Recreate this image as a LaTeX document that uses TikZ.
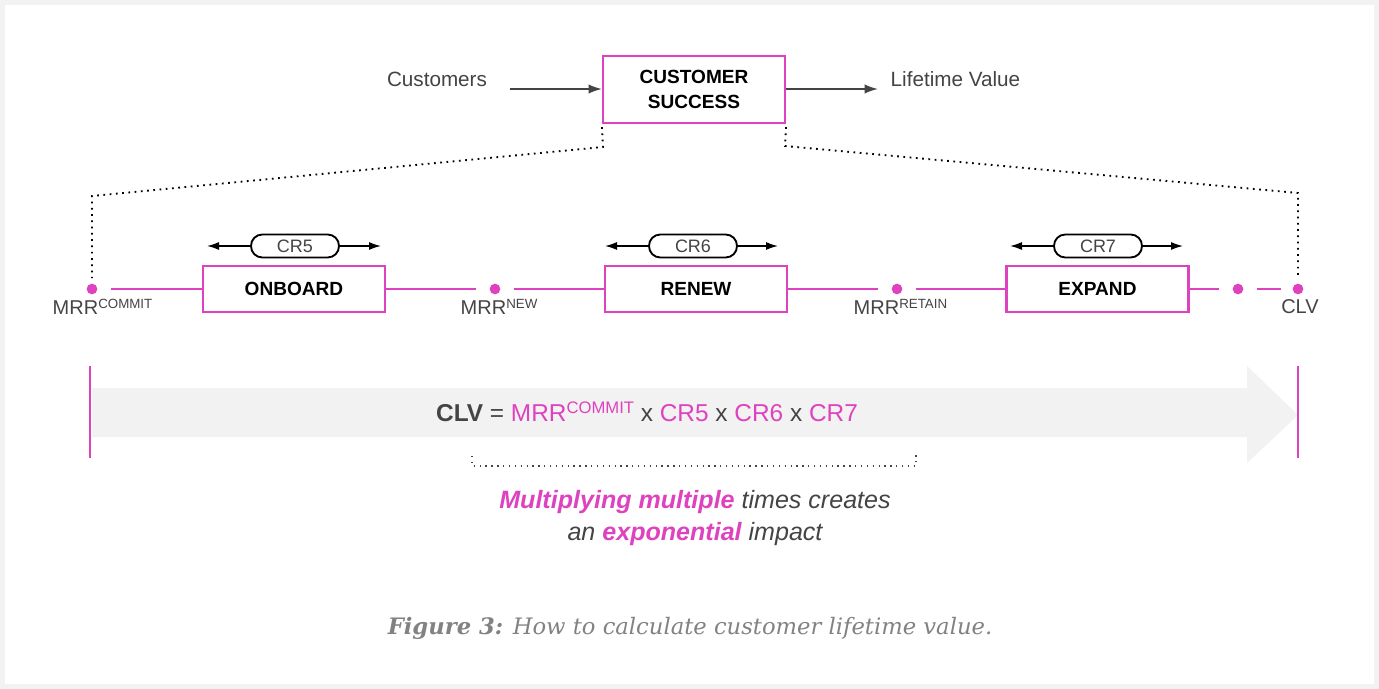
\documentclass[tikz,border=0pt]{standalone}
\usepackage{fontspec}
\setmainfont{Liberation Sans}
\newfontfamily\capfont{DejaVu Serif}
\usetikzlibrary{arrows.meta}
\definecolor{cspink}{RGB}{222,66,190}
\definecolor{txt}{RGB}{68,68,68}
\definecolor{band}{RGB}{242,242,242}
\definecolor{captxt}{RGB}{130,130,130}
\tikzset{
  stage/.style={draw=cspink, line width=1.6pt, fill=white, minimum width=182*0.75pt, minimum height=46*0.75pt, inner sep=0pt, font=\fontsize{14.3}{17}\selectfont\bfseries, text=black},
  pill/.style={draw=black, line width=1.4pt, rounded corners=8.5pt, minimum width=88*0.75pt, minimum height=23*0.75pt, inner sep=0pt, font=\fontsize{13.5}{16}\selectfont, text=txt},
  crarrow/.style={draw=black, line width=1.1pt, -{Latex[length=9pt,width=6pt]}},
  flow/.style={draw=txt, line width=1.3pt, -{Latex[length=10pt,width=7pt]}},
  pinkline/.style={draw=cspink, line width=1.5pt},
  pdot/.style={circle, fill=cspink, inner sep=0pt, minimum size=8pt},
  dotline/.style={draw=black, line width=1.4pt, dash pattern=on 1.3pt off 3.4pt},
  lab/.style={font=\fontsize{15}{18}\selectfont, text=txt}
}
\begin{document}
\begin{tikzpicture}[x=0.75pt,y=-0.75pt]
\useasboundingbox (0,0) rectangle (1379,689);
\fill[white] (0,0) rectangle (1379,689);
\draw[band, line width=4pt] (2.5,2.5) rectangle (1376.5,686.5);

% top
\node[draw=cspink, line width=1.6pt, minimum width=182*0.75pt, minimum height=67*0.75pt, inner sep=0pt, align=center, font=\fontsize{14.3}{19}\selectfont\bfseries] (cs) at (694,89.5) {CUSTOMER\\SUCCESS};
\node[lab, font=\fontsize{15.5}{18}\selectfont] (cust) at (437,79) {Customers};
\node[lab, font=\fontsize{15.5}{18}\selectfont, anchor=west] (ltv) at (886,79) {Lifetime Value};
\coordinate (ca) at (510,89);
\coordinate (la) at (878,89);
\draw[flow] (ca) -- (ca -| cs.west);
\draw[flow] (la -| cs.east) -- (la);

% main line
\node[pdot] (d1) at (92,289) {};
\node[pdot] (d2) at (495,289) {};
\node[pdot] (d3) at (897,289) {};
\node[pdot] (d4) at (1238,289) {};
\node[pdot] (d5) at (1298,289) {};
\node[stage] (onb) at (294,289) {ONBOARD};
\node[stage] (ren) at (696,289) {RENEW};
\node[stage] (exp) at (1097.5,289) {EXPAND};
\draw[pinkline, shorten <=13*0.75pt] (d1) -- (onb.west);
\draw[pinkline, shorten >=13*0.75pt] (onb.east) -- (d2);
\draw[pinkline, shorten <=13*0.75pt] (d2) -- (ren.west);
\draw[pinkline, shorten >=13*0.75pt] (ren.east) -- (d3);
\draw[pinkline, shorten <=13*0.75pt] (d3) -- (exp.west);
\draw[pinkline, shorten >=13*0.75pt] (exp.east) -- (d4);
\draw[pinkline, shorten <=13*0.75pt, shorten >=11*0.75pt] (d4) -- (d5);

% labels
\node[lab, anchor=west] (l1) at (48,307) {MRR\raisebox{0.55ex}{\fontsize{10}{12}\selectfont COMMIT}};
\node[lab, anchor=west] (l2) at (456,307) {MRR\raisebox{0.55ex}{\fontsize{10}{12}\selectfont NEW}};
\node[lab, anchor=west] (l3) at (849,307) {MRR\raisebox{0.55ex}{\fontsize{10}{12}\selectfont RETAIN}};
\node[lab] (l4) at (1300,307) {CLV};

% CR pills
\node[pill] (cr5) at (295,246) {CR5};
\node[pill] (cr6) at (693,246) {CR6};
\node[pill] (cr7) at (1098,246) {CR7};
\coordinate (a5l) at (207,246); \coordinate (a5r) at (381,246);
\coordinate (a6l) at (605,246); \coordinate (a6r) at (778,246);
\coordinate (a7l) at (1010,246); \coordinate (a7r) at (1183,246);
\draw[crarrow] (cr5.west) -- (a5l);
\draw[crarrow] (cr5.east) -- (a5r);
\draw[crarrow] (cr6.west) -- (a6l);
\draw[crarrow] (cr6.east) -- (a6r);
\draw[crarrow] (cr7.west) -- (a7l);
\draw[crarrow] (cr7.east) -- (a7r);

% dotted zoom lines
\coordinate (zl) at (603,147);
\coordinate (zr) at (785,146);
\coordinate (zl2) at (92,196);
\coordinate (zr2) at (1298,193);
\draw[dotline] (cs.south west) ++(0,3) -- (zl) -- (zl2) -- ([yshift=4pt]d1.north);
\draw[dotline] (cs.south east) ++(0,3) -- (zr) -- (zr2) -- ([yshift=4pt]d5.north);

% big arrow
\fill[band] (92,388) -- (1247,388) -- (1247,366) -- (1298,415) -- (1247,463) -- (1247,437) -- (92,437) -- cycle;
\coordinate (v1t) at (90,366); \coordinate (v1b) at (90,458);
\coordinate (v2t) at (1298,366); \coordinate (v2b) at (1298,458);
\draw[draw=cspink, line width=1.5pt] (v1t) -- (v1b);
\draw[draw=cspink, line width=1.5pt] (v2t) -- (v2b);
\node[font=\fontsize{18.3}{22}\selectfont, text=txt] (form) at (647,412) {\textbf{CLV} = \textcolor{cspink}{MRR\raisebox{0.6ex}{\fontsize{12.5}{14}\selectfont COMMIT}} x \textcolor{cspink}{CR5} x \textcolor{cspink}{CR6} x \textcolor{cspink}{CR7}};

% bracket
\coordinate (b1) at (472,456); \coordinate (b2) at (472,466);
\coordinate (b3) at (916,466); \coordinate (b4) at (916,452);
\draw[draw=txt, line width=1pt, dash pattern=on 1pt off 3.4pt] (b1) -- (b2) -- (b3) -- (b4);

% takeaway
\node[font=\fontsize{18.8}{24}\selectfont\itshape, text=txt, align=center] (take) at (695,518) {\textcolor{cspink}{\bfseries Multiplying multiple} times creates\\an \textcolor{cspink}{\bfseries exponential} impact};

% caption
\node[font=\capfont\fontsize{17}{20}\selectfont\itshape, text=captxt] (cap) at (690,628) {\textbf{Figure 3:} How to calculate customer lifetime value.};
\end{tikzpicture}
\end{document}
